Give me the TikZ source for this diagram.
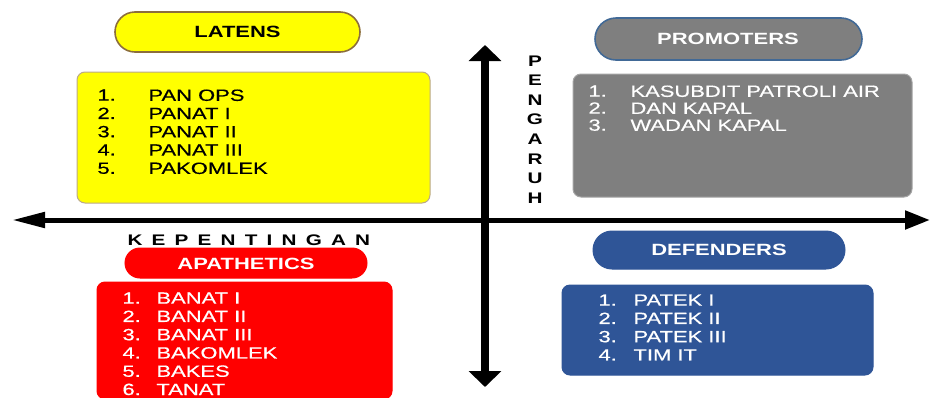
\documentclass[tikz,border=0pt]{standalone}
\usepackage{fontspec}
\setmainfont[FakeStretch=1.35]{Liberation Sans}
\newfontfamily\listfont[FakeStretch=1.35,FakeBold=0.5]{Liberation Sans}
\usetikzlibrary{arrows.meta}

\definecolor{latensyellow}{RGB}{255,255,0}
\definecolor{latensedge}{RGB}{140,110,60}
\definecolor{promgray}{RGB}{127,127,127}
\definecolor{promedge}{RGB}{65,105,150}
\definecolor{apathred}{RGB}{255,0,0}
\definecolor{defblue}{RGB}{47,85,151}

\tikzset{every picture/.style={line width=0.75pt}}
\tikzset{
  listtext/.style={anchor=north west, inner sep=0pt, align=left, font=\listfont\fontsize{12.2}{13.7}\selectfont},
  headtext/.style={inner sep=0pt, font=\bfseries\fontsize{12.2}{14}\selectfont},
  axistext/.style={inner sep=0pt, font=\bfseries\fontsize{11.5}{14.7}\selectfont}
}

\begin{document}
\begin{tikzpicture}[x=0.75pt,y=0.75pt,yscale=-1,xscale=1]
%set diagram left start at 0, and has height of 397
\path[use as bounding box] (0,0) rectangle (931,397);

%Rounded Rect: latens pill
\draw [color=latensedge, fill=latensyellow, line width=1.2pt, rounded corners=15pt] (115,12) rectangle (360,52) ;
%Rounded Rect: latens box
\draw [color=latensedge!60, fill=latensyellow, rounded corners=6pt] (77,72) rectangle (430,203) ;
%Rounded Rect: promoters pill
\draw [color=promedge, fill=promgray, line width=1.2pt, rounded corners=15.75pt] (595,18) rectangle (862,60) ;
%Rounded Rect: promoters box
\draw [color=promgray!70, fill=promgray, rounded corners=6pt] (573,74) rectangle (912,197) ;
%Rounded Rect: apathetics pill
\draw [color=apathred, fill=apathred, rounded corners=11.25pt] (125,248) rectangle (367,278) ;
%Rounded Rect: apathetics box
\draw [color=apathred, fill=apathred, rounded corners=6pt] (97,282) rectangle (392,399) ;
%Rounded Rect: defenders pill
\draw [color=defblue, fill=defblue, rounded corners=14.25pt] (593,231) rectangle (845,269) ;
%Rounded Rect: defenders box
\draw [color=defblue, fill=defblue, rounded corners=6pt] (562,285) rectangle (873,375) ;

%Axis ends
\coordinate (kepLeft) at (12,220) ;
\coordinate (kepRight) at (930,220) ;
\coordinate (pengTop) at (485,45) ;
\coordinate (pengBottom) at (485,387) ;
%Straight Lines: kepentingan axis
\draw [line width=3.75pt, {Triangle[length=24.75pt,width=11.25pt]}-{Triangle[length=18.75pt,width=13.5pt]}] (kepLeft) -- (kepRight) ;
%Straight Lines: pengaruh axis
\draw [line width=6pt, {Triangle[length=12pt,width=24pt]}-{Triangle[length=12pt,width=24pt]}] (pengTop) -- (pengBottom) ;

% Text Node
\draw (237.5,32) node [headtext] (latensHead) {LATENS};
% Text Node
\draw (97,89) node [listtext] (latensNum) {1.\\2.\\3.\\4.\\5.};
% Text Node
\draw (148,89) node [listtext] (latensList) {PAN OPS\\PANAT I\\PANAT II\\PANAT III\\PAKOMLEK};
% Text Node
\draw (728,39) node [headtext, text=white] (promHead) {PROMOTERS};
% Text Node
\draw (588,85) node [listtext, text=white, font=\listfont\fontsize{12.2}{12.75}\selectfont] (promNum) {1.\\2.\\3.};
% Text Node
\draw (630,85) node [listtext, text=white, font=\listfont\fontsize{12.2}{12.75}\selectfont] (promList) {KASUBDIT PATROLI AIR\\DAN KAPAL\\WADAN KAPAL};
% Text Node
\draw (246,264) node [headtext, text=white] (apathHead) {APATHETICS};
% Text Node
\draw (122,292) node [listtext, text=white] (apathNum) {1.\\2.\\3.\\4.\\5.\\6.};
% Text Node
\draw (156,292) node [listtext, text=white] (apathList) {BANAT I\\BANAT II\\BANAT III\\BAKOMLEK\\BAKES\\TANAT};
% Text Node
\draw (719,250) node [headtext, text=white] (defHead) {DEFENDERS};
% Text Node
\draw (598,294) node [listtext, text=white] (defNum) {1.\\2.\\3.\\4.};
% Text Node
\draw (633,294) node [listtext, text=white] (defList) {PATEK I\\PATEK II\\PATEK III\\TIM IT};
% Text Node
\draw (535,55) node [axistext, anchor=north, align=center] (pengLabel) {P\\E\\N\\G\\A\\R\\U\\H};
% Text Node
\draw (127,240) node [axistext, anchor=west] (kepLabel) {\addfontfeature{LetterSpace=60}KEPENTINGAN};

\end{tikzpicture}
\end{document}
